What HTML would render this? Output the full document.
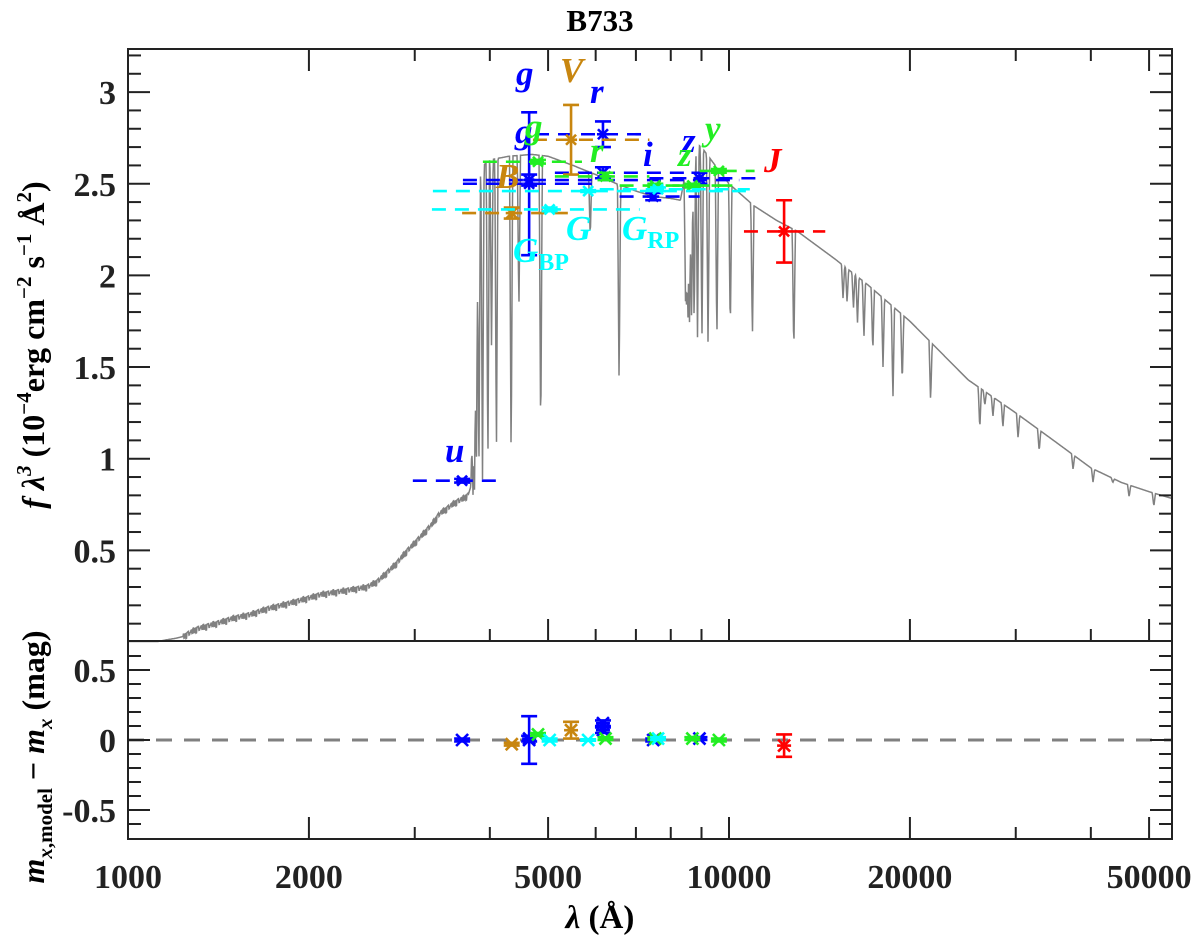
<!DOCTYPE html>
<html><head><meta charset="utf-8"><style>
body{margin:0;background:#fff}
svg{display:block}
text{font-family:"Liberation Serif","DejaVu Serif",serif}
</style></head><body>
<svg id="chart" width="1200" height="938" viewBox="0 0 1200 938" xmlns="http://www.w3.org/2000/svg">
<text x="600" y="31" text-anchor="middle" font-size="31" font-weight="bold">B733</text>
<g id="spec"></g>
<g id="phot"></g>
<g id="resid"></g>
<g id="axes"></g>
<g id="labels"></g>
<text transform="translate(44,345) rotate(-90)" text-anchor="middle" font-size="32" font-weight="bold"><tspan font-style="italic">f λ</tspan><tspan font-size="21" dy="-13" font-style="italic">3</tspan><tspan dy="13"> (10</tspan><tspan font-size="21" dy="-13">−4</tspan><tspan dy="13">erg cm</tspan><tspan font-size="21" dy="-13">−2</tspan><tspan dy="13"> s</tspan><tspan font-size="21" dy="-13">−1</tspan><tspan dy="13"> Å</tspan><tspan font-size="21" dy="-13">2</tspan><tspan dy="13">)</tspan></text>
<text transform="translate(44,757) rotate(-90)" text-anchor="middle" font-size="32" font-weight="bold"><tspan font-style="italic">m</tspan><tspan font-size="21" dy="8"><tspan font-style="italic">x</tspan>,model</tspan><tspan dy="-8"> − </tspan><tspan font-style="italic">m</tspan><tspan font-size="21" dy="8" font-style="italic">x</tspan><tspan dy="-8"> (mag)</tspan></text>
<text x="600" y="928" text-anchor="middle" font-size="33" font-weight="bold"><tspan font-style="italic">λ</tspan> (Å)</text>
</svg>
<script>
// ---- spectrum data ----
const contLam=[1000,1110,1150,1200,1235,1300,1400,1500,1600,1700,1800,1900,2000,2100,2200,2300,2400,2500,2600,2700,2800,2900,3000,3100,3200,3300,3400,3500,3600,3680,3720,3760,3800,3900,4000,4300,4700,5000,5500,6000,6500,7000,7500,8000,8300,8400,8500,8700,9000,10000,11000,12000,13000,15000,17000,20000,25000,30000,35000,40000,45000,50000,55000];
const contFlux=[0.0,0.0,0.01,0.02,0.03,0.07,0.1,0.13,0.15,0.18,0.2,0.22,0.24,0.26,0.27,0.28,0.29,0.30,0.33,0.38,0.43,0.49,0.54,0.59,0.64,0.70,0.73,0.76,0.78,0.80,0.85,1.6,2.45,2.6,2.63,2.65,2.66,2.65,2.6,2.55,2.5,2.46,2.43,2.42,2.41,2.5,2.72,2.73,2.7,2.5,2.38,2.3,2.24,2.09,1.95,1.75,1.43,1.25,1.09,0.95,0.87,0.82,0.78];
const lineLam=[3750,3771,3798,3835,3889,3970,4026,4102,4340,4471,4861,5876,6563,8467,8502,8545,8598,8665,8750,8863,9015,9229,9546,10049,10938,12818,15480,15720,16110,16360,16770,17350,18040,18740,19420,21650,26140,26650,27490,28560,30270,32820,37370,40340,43520,46320,50920];
const lineMin=[0.80,0.80,0.82,0.85,0.88,0.92,1.6,1.0,0.95,1.8,1.07,2.2,1.40,1.85,1.8,1.75,1.7,1.72,1.7,1.66,1.64,1.6,1.63,1.68,1.65,1.57,1.87,1.85,1.82,1.74,1.66,1.58,1.50,1.32,1.41,1.31,1.16,1.29,1.23,1.17,1.11,1.04,0.94,0.87,0.87,0.79,0.74];
const uvNoise=[0,0.01,-0.01,0.015,-0.012,0.008,-0.02,0.01,0.012,-0.01];
// ---- photometry data ----
const bandNames=["u","g","g2","r","r2","i","z","B","V","gP","rP","iP","zP","yP","GBP","G","GRP","J"];
const bandGroup=["sdss","sdss","sdss","sdss","sdss","sdss","sdss","jkc","jkc","ps","ps","ps","ps","ps","gaia","gaia","gaia","tm"];
const bandLam=[3597,4650,4650,6170,6170,7480,8930,4350,5460,4810,6230,7540,8690,9620,5030,5830,7620,12350];
const bandFlux=[0.88,2.50,2.52,2.77,2.56,2.43,2.53,2.34,2.74,2.62,2.54,2.49,2.49,2.57,2.36,2.46,2.47,2.24];
const bandErr=[0.01,0.39,0.03,0.07,0.03,0.02,0.03,0.03,0.19,0.01,0.02,0.01,0.01,0.01,0.01,0.005,0.01,0.17];
const bandLo=[2978,3608,3608,4756,5132,6576,7371,3597,4718,3895,5132,6576,7371,8939,3204,3216,6094,10590];
const bandHi=[4093,6094,10400,7246,8939,8939,11260,5393,7371,5693,7371,9676,10450,11030,7101,10830,10830,14460];
const resVal=[0,0,0.01,0.12,0.07,0,0.01,-0.03,0.07,0.04,0.01,0.01,0.01,0,0,0,0.01,-0.04];
const resErr=[0.01,0.17,0.02,0.02,0.02,0.01,0.01,0.01,0.06,0.01,0.01,0.01,0.01,0.01,0.01,0.005,0.01,0.08];
const groupColor={sdss:"#0000ff",jkc:"#c8860f",ps:"#22ee22",gaia:"#00ffff",tm:"#ff0000"};

const NS="http://www.w3.org/2000/svg";
const X0=128, DEC=601, TOPY0=642, TOPK=183.3, RES0=740, RESK=140;
const xs=l=>X0+DEC*Math.log10(l/1000);
const yTop=f=>TOPY0-TOPK*f;
const yRes=r=>RES0-RESK*r;
function mk(tag,attrs,parent){const e=document.createElementNS(NS,tag);for(const k in attrs)e.setAttribute(k,attrs[k]);parent.appendChild(e);return e;}

(function(){
  const g=document.getElementById('spec');
  const pts=[];
  function cont(l){
    for(let i=0;i<contLam.length-1;i++){
      if(l>=contLam[i]&&l<=contLam[i+1]){
        const t=(Math.log(l)-Math.log(contLam[i]))/(Math.log(contLam[i+1])-Math.log(contLam[i]));
        return contFlux[i]+t*(contFlux[i+1]-contFlux[i]);
      }
    }
    return contFlux[contFlux.length-1];
  }
  for(let x=X0;x<=1172;x+=0.5){
    const l=1000*Math.pow(10,(x-X0)/DEC);
    let f=cont(l);
    if(l>1235&&l<3680) f+=uvNoise[Math.floor(x)%uvNoise.length];
    for(let j=0;j<lineLam.length;j++){
      const d=Math.abs(x-xs(lineLam[j]));
      const w=1.6;
      if(d<w){const v=lineMin[j]+(f-lineMin[j])*(d/w);if(v<f)f=v;}
    }
    pts.push([x,Math.min(641.5,yTop(f))]);
  }
  const p=mk('path',{d:'M'+pts.map(q=>q[0].toFixed(1)+','+q[1].toFixed(1)).join('L'),fill:'none',stroke:'#808080','stroke-width':1.5},g);
  
  
})();

function star(parent,x,y,c,s){
  const g=mk('g',{stroke:c,'stroke-width':2.6},parent);
  mk('line',{x1:x-s,y1:y-s,x2:x+s,y2:y+s},g);
  mk('line',{x1:x-s,y1:y+s,x2:x+s,y2:y-s},g);
  mk('line',{x1:x-s-1,y1:y,x2:x+s+1,y2:y},g);
  return g;
}
function errbar(parent,x,y1,y2,c){
  const g=mk('g',{stroke:c,'stroke-width':2.6},parent);
  mk('line',{x1:x,y1:y1,x2:x,y2:y2},g);
  mk('line',{x1:x-8,y1:y1,x2:x+8,y2:y1},g);
  mk('line',{x1:x-8,y1:y2,x2:x+8,y2:y2},g);
  return g;
}
(function(){
  const g=document.getElementById('phot'), r=document.getElementById('resid');
  mk('line',{x1:X0,y1:RES0,x2:1172,y2:RES0,stroke:'#808080','stroke-width':3,'stroke-dasharray':'16,12'},r);
  for(let i=0;i<bandNames.length;i++){
    const c=groupColor[bandGroup[i]];
    const x=xs(bandLam[i]), y=yTop(bandFlux[i]);
    const pg=mk('g',{},g);
    
    
    mk('line',{x1:xs(bandLo[i]),y1:y,x2:xs(bandHi[i]),y2:y,stroke:c,'stroke-width':2.6,'stroke-dasharray':'14,9'},pg);
    errbar(pg,x,yTop(bandFlux[i]+bandErr[i]),yTop(bandFlux[i]-bandErr[i]),c);
    star(pg,x,y,c,5);
    const rg=mk('g',{},r);
    
    
    errbar(rg,x,yRes(resVal[i]+resErr[i]),yRes(resVal[i]-resErr[i]),c);
    star(rg,x,yRes(resVal[i]),c,6);
  }
})();

(function(){
  const L=document.getElementById('labels');
  const defs=[["g","#0000ff",516,85,""],["V","#c8860f",560,82,""],["r","#0000ff",590,103,""],["g","#0000ff",515,143,""],["g","#22ee22",525,138,""],
  ["r","#22ee22",590,162,""],["i","#0000ff",643,166,""],["B","#c8860f",496,188,""],["z","#0000ff",682,152,""],["z","#22ee22",678,166,""],["y","#22ee22",705,140,""],
  ["J","#ff0000",764,172,""],["G","#00ffff",513,262,"BP"],["G","#00ffff",566,240,""],["G","#00ffff",622,240,"RP"],["u","#0000ff",445,462,""]];
  defs.forEach(d=>{
    const t=mk('text',{x:d[2],y:d[3],fill:d[1],'font-size':35,'font-weight':'bold','font-style':'italic'},L);
    
    
    t.textContent=d[0];
    if(d[4]){const s=mk('tspan',{'font-size':24,'font-style':'normal',dy:8},t);s.textContent=d[4];}
  });
})();

(function(){
  const A=document.getElementById('axes');
  const st={stroke:'#222','stroke-width':2};
  mk('rect',{x:X0,y:49,width:1172-X0,height:839-49,fill:'none',...st},A);
  mk('line',{x1:X0,y1:641,x2:1172,y2:641,...st},A);
  const majorX=[1000,2000,5000,10000,20000,50000];
  const minorX=[3000,4000,6000,7000,8000,9000,30000,40000];
  const xtl=["1000","2000","5000","10000","20000","50000"];
  [[49,1],[641,-1],[839,-1]].forEach(([yy,dir])=>{
    majorX.forEach(l=>mk('line',{x1:xs(l),y1:yy,x2:xs(l),y2:yy+dir*22,...st},A));
    minorX.forEach(l=>mk('line',{x1:xs(l),y1:yy,x2:xs(l),y2:yy+dir*12,...st},A));
  });
  majorX.forEach((l,i)=>{const t=mk('text',{x:xs(l),y:888,'text-anchor':'middle','font-size':34,'font-weight':'bold',fill:'#222'},A);t.textContent=xtl[i];
    });
  for(let k=1;k<=32;k++){const y=yTop(k/10),maj=(k%5===0);
    mk('line',{x1:X0,y1:y,x2:X0+(maj?22:13),y2:y,...st},A);
    mk('line',{x1:1172,y1:y,x2:1172-(maj?22:13),y2:y,...st},A);
  }
  const ytv=[0.5,1,1.5,2,2.5,3], ytl=["0.5","1","1.5","2","2.5","3"];
  ytv.forEach((v,i)=>{const t=mk('text',{x:116,y:yTop(v)+12,'text-anchor':'end','font-size':34,'font-weight':'bold',fill:'#222'},A);t.textContent=ytl[i];
    });
  for(let k=-6;k<=6;k++){const y=yRes(k/10),maj=(k%5===0);
    mk('line',{x1:X0,y1:y,x2:X0+(maj?22:13),y2:y,...st},A);
    mk('line',{x1:1172,y1:y,x2:1172-(maj?22:13),y2:y,...st},A);
  }
  const rtv=[0.5,0,-0.5], rtl=["0.5","0","-0.5"];
  rtv.forEach((v,i)=>{const t=mk('text',{x:116,y:yRes(v)+12,'text-anchor':'end','font-size':34,'font-weight':'bold',fill:'#222'},A);t.textContent=rtl[i];
    });
})();
</script>
</body></html>
